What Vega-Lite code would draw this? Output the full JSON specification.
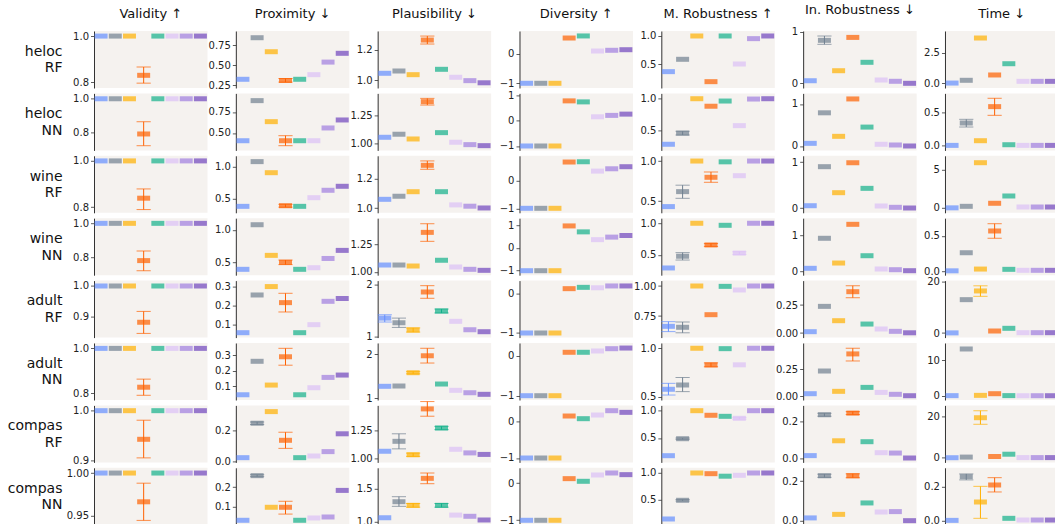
{
"$schema":"https://vega.github.io/schema/vega-lite/v6.json",
"padding":{"left":7,"top":3,"right":0,"bottom":0},
"background":"white",
"data":{"values":[
{"d":"heloc RF","m":"Val","k":1,"v":1},{"d":"heloc RF","m":"Val","k":2,"v":1},{"d":"heloc RF","m":"Val","k":3,"v":1},{"d":"heloc RF","m":"Val","k":4,"v":0.83,"lo":0.796,"hi":0.866},{"d":"heloc RF","m":"Val","k":5,"v":1},{"d":"heloc RF","m":"Val","k":6,"v":1},{"d":"heloc RF","m":"Val","k":7,"v":1},{"d":"heloc RF","m":"Val","k":8,"v":1},
{"d":"heloc RF","m":"Prox","k":1,"v":0.325},{"d":"heloc RF","m":"Prox","k":2,"v":0.845},{"d":"heloc RF","m":"Prox","k":3,"v":0.67},{"d":"heloc RF","m":"Prox","k":4,"v":0.31,"lo":0.29,"hi":0.335},{"d":"heloc RF","m":"Prox","k":5,"v":0.325},{"d":"heloc RF","m":"Prox","k":6,"v":0.383},{"d":"heloc RF","m":"Prox","k":7,"v":0.54},{"d":"heloc RF","m":"Prox","k":8,"v":0.65},
{"d":"heloc RF","m":"Plaus","k":1,"v":1.046},{"d":"heloc RF","m":"Plaus","k":2,"v":1.061},{"d":"heloc RF","m":"Plaus","k":3,"v":1.037},{"d":"heloc RF","m":"Plaus","k":4,"v":1.263,"lo":1.237,"hi":1.289},{"d":"heloc RF","m":"Plaus","k":5,"v":1.072},{"d":"heloc RF","m":"Plaus","k":6,"v":1.02},{"d":"heloc RF","m":"Plaus","k":7,"v":0.998},{"d":"heloc RF","m":"Plaus","k":8,"v":0.984},
{"d":"heloc RF","m":"Div","k":1,"v":-1},{"d":"heloc RF","m":"Div","k":2,"v":-1},{"d":"heloc RF","m":"Div","k":3,"v":-1},{"d":"heloc RF","m":"Div","k":4,"v":0.53},{"d":"heloc RF","m":"Div","k":5,"v":0.6},{"d":"heloc RF","m":"Div","k":6,"v":0.09},{"d":"heloc RF","m":"Div","k":7,"v":0.115},{"d":"heloc RF","m":"Div","k":8,"v":0.135},
{"d":"heloc RF","m":"MRob","k":1,"v":0.37},{"d":"heloc RF","m":"MRob","k":2,"v":0.588},{"d":"heloc RF","m":"MRob","k":3,"v":1},{"d":"heloc RF","m":"MRob","k":4,"v":0.193},{"d":"heloc RF","m":"MRob","k":5,"v":1},{"d":"heloc RF","m":"MRob","k":6,"v":0.505},{"d":"heloc RF","m":"MRob","k":7,"v":0.953},{"d":"heloc RF","m":"MRob","k":8,"v":1},
{"d":"heloc RF","m":"IRob","k":1,"v":0.05},{"d":"heloc RF","m":"IRob","k":2,"v":0.833,"lo":0.756,"hi":0.917},{"d":"heloc RF","m":"IRob","k":3,"v":0.244},{"d":"heloc RF","m":"IRob","k":4,"v":0.89},{"d":"heloc RF","m":"IRob","k":5,"v":0.407},{"d":"heloc RF","m":"IRob","k":6,"v":0.064},{"d":"heloc RF","m":"IRob","k":7,"v":0.039},{"d":"heloc RF","m":"IRob","k":8,"v":0},
{"d":"heloc RF","m":"Time","k":1,"v":0.02},{"d":"heloc RF","m":"Time","k":2,"v":0.245},{"d":"heloc RF","m":"Time","k":3,"v":3.7},{"d":"heloc RF","m":"Time","k":4,"v":0.68},{"d":"heloc RF","m":"Time","k":5,"v":1.6},{"d":"heloc RF","m":"Time","k":6,"v":0.16},{"d":"heloc RF","m":"Time","k":7,"v":0.16},{"d":"heloc RF","m":"Time","k":8,"v":0.16},
{"d":"heloc NN","m":"Val","k":1,"v":1},{"d":"heloc NN","m":"Val","k":2,"v":1},{"d":"heloc NN","m":"Val","k":3,"v":1},{"d":"heloc NN","m":"Val","k":4,"v":0.79,"lo":0.72,"hi":0.863},{"d":"heloc NN","m":"Val","k":5,"v":1},{"d":"heloc NN","m":"Val","k":6,"v":1},{"d":"heloc NN","m":"Val","k":7,"v":1},{"d":"heloc NN","m":"Val","k":8,"v":1},
{"d":"heloc NN","m":"Prox","k":1,"v":0.408},{"d":"heloc NN","m":"Prox","k":2,"v":0.885},{"d":"heloc NN","m":"Prox","k":3,"v":0.635},{"d":"heloc NN","m":"Prox","k":4,"v":0.408,"lo":0.349,"hi":0.468},{"d":"heloc NN","m":"Prox","k":5,"v":0.408},{"d":"heloc NN","m":"Prox","k":6,"v":0.408},{"d":"heloc NN","m":"Prox","k":7,"v":0.56},{"d":"heloc NN","m":"Prox","k":8,"v":0.655},
{"d":"heloc NN","m":"Plaus","k":1,"v":1.053},{"d":"heloc NN","m":"Plaus","k":2,"v":1.08},{"d":"heloc NN","m":"Plaus","k":3,"v":1.038},{"d":"heloc NN","m":"Plaus","k":4,"v":1.368,"lo":1.338,"hi":1.397},{"d":"heloc NN","m":"Plaus","k":5,"v":1.094},{"d":"heloc NN","m":"Plaus","k":6,"v":1.009},{"d":"heloc NN","m":"Plaus","k":7,"v":0.988},{"d":"heloc NN","m":"Plaus","k":8,"v":0.979},
{"d":"heloc NN","m":"Div","k":1,"v":-1},{"d":"heloc NN","m":"Div","k":2,"v":-1},{"d":"heloc NN","m":"Div","k":3,"v":-1},{"d":"heloc NN","m":"Div","k":4,"v":0.77},{"d":"heloc NN","m":"Div","k":5,"v":0.73},{"d":"heloc NN","m":"Div","k":6,"v":0.145},{"d":"heloc NN","m":"Div","k":7,"v":0.2},{"d":"heloc NN","m":"Div","k":8,"v":0.25},
{"d":"heloc NN","m":"MRob","k":1,"v":0.272},{"d":"heloc NN","m":"MRob","k":2,"v":0.45,"lo":0.42,"hi":0.48},{"d":"heloc NN","m":"MRob","k":3,"v":1},{"d":"heloc NN","m":"MRob","k":4,"v":0.88},{"d":"heloc NN","m":"MRob","k":5,"v":0.963},{"d":"heloc NN","m":"MRob","k":6,"v":0.57},{"d":"heloc NN","m":"MRob","k":7,"v":0.995},{"d":"heloc NN","m":"MRob","k":8,"v":1},
{"d":"heloc NN","m":"IRob","k":1,"v":0.063},{"d":"heloc NN","m":"IRob","k":2,"v":0.79},{"d":"heloc NN","m":"IRob","k":3,"v":0.23},{"d":"heloc NN","m":"IRob","k":4,"v":1.12},{"d":"heloc NN","m":"IRob","k":5,"v":0.45},{"d":"heloc NN","m":"IRob","k":6,"v":0.04},{"d":"heloc NN","m":"IRob","k":7,"v":0.024},{"d":"heloc NN","m":"IRob","k":8,"v":0},
{"d":"heloc NN","m":"Time","k":1,"v":0.005},{"d":"heloc NN","m":"Time","k":2,"v":0.34,"lo":0.28,"hi":0.395},{"d":"heloc NN","m":"Time","k":3,"v":0.075},{"d":"heloc NN","m":"Time","k":4,"v":0.585,"lo":0.455,"hi":0.71},{"d":"heloc NN","m":"Time","k":5,"v":0.015},{"d":"heloc NN","m":"Time","k":6,"v":0.005},{"d":"heloc NN","m":"Time","k":7,"v":0.005},{"d":"heloc NN","m":"Time","k":8,"v":0.005},
{"d":"wine RF","m":"Val","k":1,"v":1},{"d":"wine RF","m":"Val","k":2,"v":1},{"d":"wine RF","m":"Val","k":3,"v":1},{"d":"wine RF","m":"Val","k":4,"v":0.839,"lo":0.79,"hi":0.879},{"d":"wine RF","m":"Val","k":5,"v":1},{"d":"wine RF","m":"Val","k":6,"v":1},{"d":"wine RF","m":"Val","k":7,"v":1},{"d":"wine RF","m":"Val","k":8,"v":1},
{"d":"wine RF","m":"Prox","k":1,"v":0.373},{"d":"wine RF","m":"Prox","k":2,"v":1.08},{"d":"wine RF","m":"Prox","k":3,"v":0.905},{"d":"wine RF","m":"Prox","k":4,"v":0.383,"lo":0.36,"hi":0.405},{"d":"wine RF","m":"Prox","k":5,"v":0.373},{"d":"wine RF","m":"Prox","k":6,"v":0.51},{"d":"wine RF","m":"Prox","k":7,"v":0.627},{"d":"wine RF","m":"Prox","k":8,"v":0.69},
{"d":"wine RF","m":"Plaus","k":1,"v":1.061},{"d":"wine RF","m":"Plaus","k":2,"v":1.082},{"d":"wine RF","m":"Plaus","k":3,"v":1.113},{"d":"wine RF","m":"Plaus","k":4,"v":1.293,"lo":1.266,"hi":1.323},{"d":"wine RF","m":"Plaus","k":5,"v":1.113},{"d":"wine RF","m":"Plaus","k":6,"v":1.023},{"d":"wine RF","m":"Plaus","k":7,"v":1.014},{"d":"wine RF","m":"Plaus","k":8,"v":1.002},
{"d":"wine RF","m":"Div","k":1,"v":-1},{"d":"wine RF","m":"Div","k":2,"v":-1},{"d":"wine RF","m":"Div","k":3,"v":-1},{"d":"wine RF","m":"Div","k":4,"v":0.68},{"d":"wine RF","m":"Div","k":5,"v":0.69},{"d":"wine RF","m":"Div","k":6,"v":0.35},{"d":"wine RF","m":"Div","k":7,"v":0.435},{"d":"wine RF","m":"Div","k":8,"v":0.51},
{"d":"wine RF","m":"MRob","k":1,"v":0.434},{"d":"wine RF","m":"MRob","k":2,"v":0.62,"lo":0.537,"hi":0.7},{"d":"wine RF","m":"MRob","k":3,"v":1},{"d":"wine RF","m":"MRob","k":4,"v":0.798,"lo":0.736,"hi":0.864},{"d":"wine RF","m":"MRob","k":5,"v":0.99},{"d":"wine RF","m":"MRob","k":6,"v":0.818},{"d":"wine RF","m":"MRob","k":7,"v":1},{"d":"wine RF","m":"MRob","k":8,"v":1},
{"d":"wine RF","m":"IRob","k":1,"v":0.05},{"d":"wine RF","m":"IRob","k":2,"v":0.904},{"d":"wine RF","m":"IRob","k":3,"v":0.335},{"d":"wine RF","m":"IRob","k":4,"v":0.99},{"d":"wine RF","m":"IRob","k":5,"v":0.43},{"d":"wine RF","m":"IRob","k":6,"v":0.044},{"d":"wine RF","m":"IRob","k":7,"v":0.015},{"d":"wine RF","m":"IRob","k":8,"v":0},
{"d":"wine RF","m":"Time","k":1,"v":0.02},{"d":"wine RF","m":"Time","k":2,"v":0.22},{"d":"wine RF","m":"Time","k":3,"v":5.96},{"d":"wine RF","m":"Time","k":4,"v":0.62},{"d":"wine RF","m":"Time","k":5,"v":1.58},{"d":"wine RF","m":"Time","k":6,"v":0.13},{"d":"wine RF","m":"Time","k":7,"v":0.13},{"d":"wine RF","m":"Time","k":8,"v":0.13},
{"d":"wine NN","m":"Val","k":1,"v":1},{"d":"wine NN","m":"Val","k":2,"v":1},{"d":"wine NN","m":"Val","k":3,"v":1},{"d":"wine NN","m":"Val","k":4,"v":0.783,"lo":0.724,"hi":0.839},{"d":"wine NN","m":"Val","k":5,"v":1},{"d":"wine NN","m":"Val","k":6,"v":1},{"d":"wine NN","m":"Val","k":7,"v":1},{"d":"wine NN","m":"Val","k":8,"v":1},
{"d":"wine NN","m":"Prox","k":1,"v":0.387},{"d":"wine NN","m":"Prox","k":2,"v":1.077},{"d":"wine NN","m":"Prox","k":3,"v":0.603},{"d":"wine NN","m":"Prox","k":4,"v":0.495,"lo":0.46,"hi":0.53},{"d":"wine NN","m":"Prox","k":5,"v":0.387},{"d":"wine NN","m":"Prox","k":6,"v":0.412},{"d":"wine NN","m":"Prox","k":7,"v":0.555},{"d":"wine NN","m":"Prox","k":8,"v":0.68},
{"d":"wine NN","m":"Plaus","k":1,"v":1.063},{"d":"wine NN","m":"Plaus","k":2,"v":1.063},{"d":"wine NN","m":"Plaus","k":3,"v":1.054},{"d":"wine NN","m":"Plaus","k":4,"v":1.358,"lo":1.277,"hi":1.436},{"d":"wine NN","m":"Plaus","k":5,"v":1.106},{"d":"wine NN","m":"Plaus","k":6,"v":1.045},{"d":"wine NN","m":"Plaus","k":7,"v":1.024},{"d":"wine NN","m":"Plaus","k":8,"v":1.015},
{"d":"wine NN","m":"Div","k":1,"v":-1},{"d":"wine NN","m":"Div","k":2,"v":-1},{"d":"wine NN","m":"Div","k":3,"v":-1},{"d":"wine NN","m":"Div","k":4,"v":0.96},{"d":"wine NN","m":"Div","k":5,"v":0.7},{"d":"wine NN","m":"Div","k":6,"v":0.36},{"d":"wine NN","m":"Div","k":7,"v":0.47},{"d":"wine NN","m":"Div","k":8,"v":0.54},
{"d":"wine NN","m":"MRob","k":1,"v":0.295},{"d":"wine NN","m":"MRob","k":2,"v":0.48,"lo":0.42,"hi":0.537},{"d":"wine NN","m":"MRob","k":3,"v":1},{"d":"wine NN","m":"MRob","k":4,"v":0.658,"lo":0.635,"hi":0.68},{"d":"wine NN","m":"MRob","k":5,"v":0.968},{"d":"wine NN","m":"MRob","k":6,"v":0.53,"lo":0.51,"hi":0.55},{"d":"wine NN","m":"MRob","k":7,"v":1},{"d":"wine NN","m":"MRob","k":8,"v":1},
{"d":"wine NN","m":"IRob","k":1,"v":0.083},{"d":"wine NN","m":"IRob","k":2,"v":0.917},{"d":"wine NN","m":"IRob","k":3,"v":0.23},{"d":"wine NN","m":"IRob","k":4,"v":1.305},{"d":"wine NN","m":"IRob","k":5,"v":0.433},{"d":"wine NN","m":"IRob","k":6,"v":0.064},{"d":"wine NN","m":"IRob","k":7,"v":0.045},{"d":"wine NN","m":"IRob","k":8,"v":0.017},
{"d":"wine NN","m":"Time","k":1,"v":0.003},{"d":"wine NN","m":"Time","k":2,"v":0.259},{"d":"wine NN","m":"Time","k":3,"v":0.028},{"d":"wine NN","m":"Time","k":4,"v":0.567,"lo":0.464,"hi":0.67},{"d":"wine NN","m":"Time","k":5,"v":0.024},{"d":"wine NN","m":"Time","k":6,"v":0.01},{"d":"wine NN","m":"Time","k":7,"v":0.01},{"d":"wine NN","m":"Time","k":8,"v":0.01},
{"d":"adult RF","m":"Val","k":1,"v":1},{"d":"adult RF","m":"Val","k":2,"v":1},{"d":"adult RF","m":"Val","k":3,"v":1},{"d":"adult RF","m":"Val","k":4,"v":0.883,"lo":0.847,"hi":0.918},{"d":"adult RF","m":"Val","k":5,"v":1},{"d":"adult RF","m":"Val","k":6,"v":1},{"d":"adult RF","m":"Val","k":7,"v":1},{"d":"adult RF","m":"Val","k":8,"v":1},
{"d":"adult RF","m":"Prox","k":1,"v":0.055},{"d":"adult RF","m":"Prox","k":2,"v":0.257},{"d":"adult RF","m":"Prox","k":3,"v":0.302},{"d":"adult RF","m":"Prox","k":4,"v":0.216,"lo":0.166,"hi":0.266},{"d":"adult RF","m":"Prox","k":5,"v":0.055},{"d":"adult RF","m":"Prox","k":6,"v":0.098},{"d":"adult RF","m":"Prox","k":7,"v":0.223},{"d":"adult RF","m":"Prox","k":8,"v":0.238},
{"d":"adult RF","m":"Plaus","k":1,"v":1.36,"lo":1.284,"hi":1.425},{"d":"adult RF","m":"Plaus","k":2,"v":1.27,"lo":1.18,"hi":1.36},{"d":"adult RF","m":"Plaus","k":3,"v":1.13,"lo":1.09,"hi":1.17},{"d":"adult RF","m":"Plaus","k":4,"v":1.865,"lo":1.743,"hi":1.987},{"d":"adult RF","m":"Plaus","k":5,"v":1.497,"lo":1.46,"hi":1.535},{"d":"adult RF","m":"Plaus","k":6,"v":1.298},{"d":"adult RF","m":"Plaus","k":7,"v":1.135},{"d":"adult RF","m":"Plaus","k":8,"v":1.097},
{"d":"adult RF","m":"Div","k":1,"v":-1},{"d":"adult RF","m":"Div","k":2,"v":-1},{"d":"adult RF","m":"Div","k":3,"v":-1},{"d":"adult RF","m":"Div","k":4,"v":0.117},{"d":"adult RF","m":"Div","k":5,"v":0.15},{"d":"adult RF","m":"Div","k":6,"v":0.14},{"d":"adult RF","m":"Div","k":7,"v":0.185},{"d":"adult RF","m":"Div","k":8,"v":0.185},
{"d":"adult RF","m":"MRob","k":1,"v":0.664,"lo":0.62,"hi":0.703},{"d":"adult RF","m":"MRob","k":2,"v":0.656,"lo":0.61,"hi":0.7},{"d":"adult RF","m":"MRob","k":3,"v":1},{"d":"adult RF","m":"MRob","k":4,"v":0.761},{"d":"adult RF","m":"MRob","k":5,"v":0.997},{"d":"adult RF","m":"MRob","k":6,"v":0.967},{"d":"adult RF","m":"MRob","k":7,"v":1},{"d":"adult RF","m":"MRob","k":8,"v":1},
{"d":"adult RF","m":"IRob","k":1,"v":0.012},{"d":"adult RF","m":"IRob","k":2,"v":0.238},{"d":"adult RF","m":"IRob","k":3,"v":0.11},{"d":"adult RF","m":"IRob","k":4,"v":0.369,"lo":0.315,"hi":0.422},{"d":"adult RF","m":"IRob","k":5,"v":0.08},{"d":"adult RF","m":"IRob","k":6,"v":0.036},{"d":"adult RF","m":"IRob","k":7,"v":0.015},{"d":"adult RF","m":"IRob","k":8,"v":0.002},
{"d":"adult RF","m":"Time","k":1,"v":0.05},{"d":"adult RF","m":"Time","k":2,"v":13},{"d":"adult RF","m":"Time","k":3,"v":16.4,"lo":14.3,"hi":18.4},{"d":"adult RF","m":"Time","k":4,"v":0.78},{"d":"adult RF","m":"Time","k":5,"v":1.83},{"d":"adult RF","m":"Time","k":6,"v":0.13},{"d":"adult RF","m":"Time","k":7,"v":0.13},{"d":"adult RF","m":"Time","k":8,"v":0.13},
{"d":"adult NN","m":"Val","k":1,"v":1},{"d":"adult NN","m":"Val","k":2,"v":1},{"d":"adult NN","m":"Val","k":3,"v":1},{"d":"adult NN","m":"Val","k":4,"v":0.827,"lo":0.791,"hi":0.863},{"d":"adult NN","m":"Val","k":5,"v":1},{"d":"adult NN","m":"Val","k":6,"v":1},{"d":"adult NN","m":"Val","k":7,"v":1},{"d":"adult NN","m":"Val","k":8,"v":1},
{"d":"adult NN","m":"Prox","k":1,"v":0.046},{"d":"adult NN","m":"Prox","k":2,"v":0.26},{"d":"adult NN","m":"Prox","k":3,"v":0.108},{"d":"adult NN","m":"Prox","k":4,"v":0.289,"lo":0.235,"hi":0.343},{"d":"adult NN","m":"Prox","k":5,"v":0.046},{"d":"adult NN","m":"Prox","k":6,"v":0.091},{"d":"adult NN","m":"Prox","k":7,"v":0.157},{"d":"adult NN","m":"Prox","k":8,"v":0.172},
{"d":"adult NN","m":"Plaus","k":1,"v":1.266},{"d":"adult NN","m":"Plaus","k":2,"v":1.273},{"d":"adult NN","m":"Plaus","k":3,"v":1.575,"lo":1.55,"hi":1.6},{"d":"adult NN","m":"Plaus","k":4,"v":1.96,"lo":1.795,"hi":2.13},{"d":"adult NN","m":"Plaus","k":5,"v":1.318},{"d":"adult NN","m":"Plaus","k":6,"v":1.175},{"d":"adult NN","m":"Plaus","k":7,"v":1.12},{"d":"adult NN","m":"Plaus","k":8,"v":1.084},
{"d":"adult NN","m":"Div","k":1,"v":-1},{"d":"adult NN","m":"Div","k":2,"v":-1},{"d":"adult NN","m":"Div","k":3,"v":-1},{"d":"adult NN","m":"Div","k":4,"v":0.093},{"d":"adult NN","m":"Div","k":5,"v":0.093},{"d":"adult NN","m":"Div","k":6,"v":0.126},{"d":"adult NN","m":"Div","k":7,"v":0.184},{"d":"adult NN","m":"Div","k":8,"v":0.2},
{"d":"adult NN","m":"MRob","k":1,"v":0.579,"lo":0.52,"hi":0.64},{"d":"adult NN","m":"MRob","k":2,"v":0.623,"lo":0.555,"hi":0.7},{"d":"adult NN","m":"MRob","k":3,"v":1},{"d":"adult NN","m":"MRob","k":4,"v":0.829,"lo":0.81,"hi":0.85},{"d":"adult NN","m":"MRob","k":5,"v":0.996},{"d":"adult NN","m":"MRob","k":6,"v":0.83},{"d":"adult NN","m":"MRob","k":7,"v":1},{"d":"adult NN","m":"MRob","k":8,"v":1},
{"d":"adult NN","m":"IRob","k":1,"v":0.022},{"d":"adult NN","m":"IRob","k":2,"v":0.234},{"d":"adult NN","m":"IRob","k":3,"v":0.044},{"d":"adult NN","m":"IRob","k":4,"v":0.394,"lo":0.328,"hi":0.447},{"d":"adult NN","m":"IRob","k":5,"v":0.081},{"d":"adult NN","m":"IRob","k":6,"v":0.034},{"d":"adult NN","m":"IRob","k":7,"v":0.016},{"d":"adult NN","m":"IRob","k":8,"v":0.003},
{"d":"adult NN","m":"Time","k":1,"v":0.02},{"d":"adult NN","m":"Time","k":2,"v":13.2},{"d":"adult NN","m":"Time","k":3,"v":0.1},{"d":"adult NN","m":"Time","k":4,"v":0.57},{"d":"adult NN","m":"Time","k":5,"v":0.03},{"d":"adult NN","m":"Time","k":6,"v":0},{"d":"adult NN","m":"Time","k":7,"v":0},{"d":"adult NN","m":"Time","k":8,"v":0},
{"d":"compas RF","m":"Val","k":1,"v":1},{"d":"compas RF","m":"Val","k":2,"v":1},{"d":"compas RF","m":"Val","k":3,"v":1},{"d":"compas RF","m":"Val","k":4,"v":0.943,"lo":0.906,"hi":0.981},{"d":"compas RF","m":"Val","k":5,"v":1},{"d":"compas RF","m":"Val","k":6,"v":1},{"d":"compas RF","m":"Val","k":7,"v":1},{"d":"compas RF","m":"Val","k":8,"v":1},
{"d":"compas RF","m":"Prox","k":1,"v":0.026},{"d":"compas RF","m":"Prox","k":2,"v":0.248,"lo":0.24,"hi":0.256},{"d":"compas RF","m":"Prox","k":3,"v":0.323},{"d":"compas RF","m":"Prox","k":4,"v":0.138,"lo":0.086,"hi":0.19},{"d":"compas RF","m":"Prox","k":5,"v":0.026},{"d":"compas RF","m":"Prox","k":6,"v":0.037},{"d":"compas RF","m":"Prox","k":7,"v":0.065},{"d":"compas RF","m":"Prox","k":8,"v":0.18},
{"d":"compas RF","m":"Plaus","k":1,"v":1.062},{"d":"compas RF","m":"Plaus","k":2,"v":1.153,"lo":1.084,"hi":1.222},{"d":"compas RF","m":"Plaus","k":3,"v":1.03,"lo":1.015,"hi":1.045},{"d":"compas RF","m":"Plaus","k":4,"v":1.45,"lo":1.383,"hi":1.517},{"d":"compas RF","m":"Plaus","k":5,"v":1.275,"lo":1.26,"hi":1.29},{"d":"compas RF","m":"Plaus","k":6,"v":1.08},{"d":"compas RF","m":"Plaus","k":7,"v":1.047},{"d":"compas RF","m":"Plaus","k":8,"v":1.033},
{"d":"compas RF","m":"Div","k":1,"v":-1},{"d":"compas RF","m":"Div","k":2,"v":-1},{"d":"compas RF","m":"Div","k":3,"v":-1},{"d":"compas RF","m":"Div","k":4,"v":0.135},{"d":"compas RF","m":"Div","k":5,"v":0.063},{"d":"compas RF","m":"Div","k":6,"v":0.162},{"d":"compas RF","m":"Div","k":7,"v":0.279},{"d":"compas RF","m":"Div","k":8,"v":0.234},
{"d":"compas RF","m":"MRob","k":1,"v":0.176},{"d":"compas RF","m":"MRob","k":2,"v":0.487,"lo":0.475,"hi":0.5},{"d":"compas RF","m":"MRob","k":3,"v":1},{"d":"compas RF","m":"MRob","k":4,"v":0.916},{"d":"compas RF","m":"MRob","k":5,"v":0.897},{"d":"compas RF","m":"MRob","k":6,"v":0.861,"lo":0.845,"hi":0.877},{"d":"compas RF","m":"MRob","k":7,"v":1},{"d":"compas RF","m":"MRob","k":8,"v":1},
{"d":"compas RF","m":"IRob","k":1,"v":0.013},{"d":"compas RF","m":"IRob","k":2,"v":0.236,"lo":0.228,"hi":0.244},{"d":"compas RF","m":"IRob","k":3,"v":0.094},{"d":"compas RF","m":"IRob","k":4,"v":0.245,"lo":0.237,"hi":0.253},{"d":"compas RF","m":"IRob","k":5,"v":0.089},{"d":"compas RF","m":"IRob","k":6,"v":0.029},{"d":"compas RF","m":"IRob","k":7,"v":0.027},{"d":"compas RF","m":"IRob","k":8,"v":0},
{"d":"compas RF","m":"Time","k":1,"v":0},{"d":"compas RF","m":"Time","k":2,"v":0.3},{"d":"compas RF","m":"Time","k":3,"v":19.5,"lo":16.3,"hi":22.9},{"d":"compas RF","m":"Time","k":4,"v":0.6},{"d":"compas RF","m":"Time","k":5,"v":1.7},{"d":"compas RF","m":"Time","k":6,"v":0.05},{"d":"compas RF","m":"Time","k":7,"v":0.05},{"d":"compas RF","m":"Time","k":8,"v":0.05},
{"d":"compas NN","m":"Val","k":1,"v":1},{"d":"compas NN","m":"Val","k":2,"v":1},{"d":"compas NN","m":"Val","k":3,"v":1},{"d":"compas NN","m":"Val","k":4,"v":0.966,"lo":0.944,"hi":0.988},{"d":"compas NN","m":"Val","k":5,"v":1},{"d":"compas NN","m":"Val","k":6,"v":1},{"d":"compas NN","m":"Val","k":7,"v":1},{"d":"compas NN","m":"Val","k":8,"v":1},
{"d":"compas NN","m":"Prox","k":1,"v":0.03},{"d":"compas NN","m":"Prox","k":2,"v":0.26,"lo":0.255,"hi":0.265},{"d":"compas NN","m":"Prox","k":3,"v":0.097},{"d":"compas NN","m":"Prox","k":4,"v":0.097,"lo":0.062,"hi":0.128},{"d":"compas NN","m":"Prox","k":5,"v":0.03},{"d":"compas NN","m":"Prox","k":6,"v":0.042},{"d":"compas NN","m":"Prox","k":7,"v":0.047},{"d":"compas NN","m":"Prox","k":8,"v":0.184},
{"d":"compas NN","m":"Plaus","k":1,"v":1.06},{"d":"compas NN","m":"Plaus","k":2,"v":1.303,"lo":1.233,"hi":1.379},{"d":"compas NN","m":"Plaus","k":3,"v":1.248,"lo":1.22,"hi":1.276},{"d":"compas NN","m":"Plaus","k":4,"v":1.657,"lo":1.576,"hi":1.738},{"d":"compas NN","m":"Plaus","k":5,"v":1.248,"lo":1.22,"hi":1.276},{"d":"compas NN","m":"Plaus","k":6,"v":1.1},{"d":"compas NN","m":"Plaus","k":7,"v":1.082},{"d":"compas NN","m":"Plaus","k":8,"v":1.026},
{"d":"compas NN","m":"Div","k":1,"v":-1},{"d":"compas NN","m":"Div","k":2,"v":-1},{"d":"compas NN","m":"Div","k":3,"v":-1},{"d":"compas NN","m":"Div","k":4,"v":0.126},{"d":"compas NN","m":"Div","k":5,"v":0.054},{"d":"compas NN","m":"Div","k":6,"v":0.225},{"d":"compas NN","m":"Div","k":7,"v":0.279},{"d":"compas NN","m":"Div","k":8,"v":0.234},
{"d":"compas NN","m":"MRob","k":1,"v":0.139},{"d":"compas NN","m":"MRob","k":2,"v":0.489,"lo":0.475,"hi":0.503},{"d":"compas NN","m":"MRob","k":3,"v":1},{"d":"compas NN","m":"MRob","k":4,"v":0.987},{"d":"compas NN","m":"MRob","k":5,"v":0.94},{"d":"compas NN","m":"MRob","k":6,"v":0.957},{"d":"compas NN","m":"MRob","k":7,"v":1},{"d":"compas NN","m":"MRob","k":8,"v":1},
{"d":"compas NN","m":"IRob","k":1,"v":0.014},{"d":"compas NN","m":"IRob","k":2,"v":0.228,"lo":0.22,"hi":0.236},{"d":"compas NN","m":"IRob","k":3,"v":0.032},{"d":"compas NN","m":"IRob","k":4,"v":0.228,"lo":0.218,"hi":0.238},{"d":"compas NN","m":"IRob","k":5,"v":0.09},{"d":"compas NN","m":"IRob","k":6,"v":0.044},{"d":"compas NN","m":"IRob","k":7,"v":0.046},{"d":"compas NN","m":"IRob","k":8,"v":0},
{"d":"compas NN","m":"Time","k":1,"v":0.002},{"d":"compas NN","m":"Time","k":2,"v":0.259,"lo":0.24,"hi":0.275},{"d":"compas NN","m":"Time","k":3,"v":0.11,"lo":0.014,"hi":0.202},{"d":"compas NN","m":"Time","k":4,"v":0.21,"lo":0.169,"hi":0.253},{"d":"compas NN","m":"Time","k":5,"v":0.014},{"d":"compas NN","m":"Time","k":6,"v":0.004},{"d":"compas NN","m":"Time","k":7,"v":0.004},{"d":"compas NN","m":"Time","k":8,"v":0.004}
]},
"columns":7,
"spacing":{"row":5.4,"column":27.83},
"bounds":"flush",
"concat":[
{"title":"Validity ↑","transform":[{"filter":"datum.d=='heloc RF'&&datum.m=='Val'"}],"encoding":{"x":{"field":"k"},"color":{"field":"k"},"y":{"field":"v","type":"quantitative","scale":{"domain":[0.775,1.022]},"axis":{"values":[0.8,1],"format":".1f","title":["heloc","RF"]}}},"layer":[{"mark":{"type":"tick","thickness":5,"size":13}},{"transform":[{"filter":"isValid(datum.lo)"}],"mark":"errorbar","encoding":{"y":{"field":"lo","type":"quantitative"},"y2":{"field":"hi"}}}]},
{"title":"Proximity ↓","transform":[{"filter":"datum.d=='heloc RF'&&datum.m=='Prox'"}],"encoding":{"x":{"field":"k"},"color":{"field":"k"},"y":{"field":"v","type":"quantitative","scale":{"domain":[0.216,0.929]},"axis":{"values":[0.25,0.5,0.75],"format":".2f","title":null}}},"layer":[{"mark":{"type":"tick","thickness":5,"size":13}},{"transform":[{"filter":"isValid(datum.lo)"}],"mark":"errorbar","encoding":{"y":{"field":"lo","type":"quantitative"},"y2":{"field":"hi"}}}]},
{"title":"Plausibility ↓","transform":[{"filter":"datum.d=='heloc RF'&&datum.m=='Plaus'"}],"encoding":{"x":{"field":"k"},"color":{"field":"k"},"y":{"field":"v","type":"quantitative","scale":{"domain":[0.95,1.322]},"axis":{"values":[1,1.2],"format":".1f","title":null}}},"layer":[{"mark":{"type":"tick","thickness":5,"size":13}},{"transform":[{"filter":"isValid(datum.lo)"}],"mark":"errorbar","encoding":{"y":{"field":"lo","type":"quantitative"},"y2":{"field":"hi"}}}]},
{"title":"Diversity ↑","transform":[{"filter":"datum.d=='heloc RF'&&datum.m=='Div'"}],"encoding":{"x":{"field":"k"},"color":{"field":"k"},"y":{"field":"v","type":"quantitative","scale":{"domain":[-1.159,0.767]},"axis":{"values":[-1,0],"format":"d","title":null}}},"layer":[{"mark":{"type":"tick","thickness":5,"size":13}},{"transform":[{"filter":"isValid(datum.lo)"}],"mark":"errorbar","encoding":{"y":{"field":"lo","type":"quantitative"},"y2":{"field":"hi"}}}]},
{"title":"M. Robustness ↑","transform":[{"filter":"datum.d=='heloc RF'&&datum.m=='MRob'"}],"encoding":{"x":{"field":"k"},"color":{"field":"k"},"y":{"field":"v","type":"quantitative","scale":{"domain":[0.081,1.088]},"axis":{"values":[0.5,1],"format":".1f","title":null}}},"layer":[{"mark":{"type":"tick","thickness":5,"size":13}},{"transform":[{"filter":"isValid(datum.lo)"}],"mark":"errorbar","encoding":{"y":{"field":"lo","type":"quantitative"},"y2":{"field":"hi"}}}]},
{"title":"In. Robustness ↓","transform":[{"filter":"datum.d=='heloc RF'&&datum.m=='IRob'"}],"encoding":{"x":{"field":"k"},"color":{"field":"k"},"y":{"field":"v","type":"quantitative","scale":{"domain":[-0.091,1.014]},"axis":{"values":[0,1],"format":"d","title":null}}},"layer":[{"mark":{"type":"tick","thickness":5,"size":13}},{"transform":[{"filter":"isValid(datum.lo)"}],"mark":"errorbar","encoding":{"y":{"field":"lo","type":"quantitative"},"y2":{"field":"hi"}}}]},
{"title":"Time ↓","transform":[{"filter":"datum.d=='heloc RF'&&datum.m=='Time'"}],"encoding":{"x":{"field":"k"},"color":{"field":"k"},"y":{"field":"v","type":"quantitative","scale":{"domain":[-0.384,4.273]},"axis":{"values":[0,2.5],"format":".1f","title":null}}},"layer":[{"mark":{"type":"tick","thickness":5,"size":13}},{"transform":[{"filter":"isValid(datum.lo)"}],"mark":"errorbar","encoding":{"y":{"field":"lo","type":"quantitative"},"y2":{"field":"hi"}}}]},

{"transform":[{"filter":"datum.d=='heloc NN'&&datum.m=='Val'"}],"encoding":{"x":{"field":"k"},"color":{"field":"k"},"y":{"field":"v","type":"quantitative","scale":{"domain":[0.692,1.032]},"axis":{"values":[0.8,1],"format":".1f","title":["heloc","NN"]}}},"layer":[{"mark":{"type":"tick","thickness":5,"size":13}},{"transform":[{"filter":"isValid(datum.lo)"}],"mark":"errorbar","encoding":{"y":{"field":"lo","type":"quantitative"},"y2":{"field":"hi"}}}]},
{"transform":[{"filter":"datum.d=='heloc NN'&&datum.m=='Prox'"}],"encoding":{"x":{"field":"k"},"color":{"field":"k"},"y":{"field":"v","type":"quantitative","scale":{"domain":[0.293,0.971]},"axis":{"values":[0.5,0.75],"format":".2f","title":null}}},"layer":[{"mark":{"type":"tick","thickness":5,"size":13}},{"transform":[{"filter":"isValid(datum.lo)"}],"mark":"errorbar","encoding":{"y":{"field":"lo","type":"quantitative"},"y2":{"field":"hi"}}}]},
{"transform":[{"filter":"datum.d=='heloc NN'&&datum.m=='Plaus'"}],"encoding":{"x":{"field":"k"},"color":{"field":"k"},"y":{"field":"v","type":"quantitative","scale":{"domain":[0.937,1.441]},"axis":{"values":[1,1.25],"format":".2f","title":null}}},"layer":[{"mark":{"type":"tick","thickness":5,"size":13}},{"transform":[{"filter":"isValid(datum.lo)"}],"mark":"errorbar","encoding":{"y":{"field":"lo","type":"quantitative"},"y2":{"field":"hi"}}}]},
{"transform":[{"filter":"datum.d=='heloc NN'&&datum.m=='Div'"}],"encoding":{"x":{"field":"k"},"color":{"field":"k"},"y":{"field":"v","type":"quantitative","scale":{"domain":[-1.173,1.063]},"axis":{"values":[-1,0,1],"format":"d","title":null}}},"layer":[{"mark":{"type":"tick","thickness":5,"size":13}},{"transform":[{"filter":"isValid(datum.lo)"}],"mark":"errorbar","encoding":{"y":{"field":"lo","type":"quantitative"},"y2":{"field":"hi"}}}]},
{"transform":[{"filter":"datum.d=='heloc NN'&&datum.m=='MRob'"}],"encoding":{"x":{"field":"k"},"color":{"field":"k"},"y":{"field":"v","type":"quantitative","scale":{"domain":[0.174,1.085]},"axis":{"values":[0.5,1],"format":".1f","title":null}}},"layer":[{"mark":{"type":"tick","thickness":5,"size":13}},{"transform":[{"filter":"isValid(datum.lo)"}],"mark":"errorbar","encoding":{"y":{"field":"lo","type":"quantitative"},"y2":{"field":"hi"}}}]},
{"transform":[{"filter":"datum.d=='heloc NN'&&datum.m=='IRob'"}],"encoding":{"x":{"field":"k"},"color":{"field":"k"},"y":{"field":"v","type":"quantitative","scale":{"domain":[-0.105,1.252]},"axis":{"values":[0,1],"format":"d","title":null}}},"layer":[{"mark":{"type":"tick","thickness":5,"size":13}},{"transform":[{"filter":"isValid(datum.lo)"}],"mark":"errorbar","encoding":{"y":{"field":"lo","type":"quantitative"},"y2":{"field":"hi"}}}]},
{"transform":[{"filter":"datum.d=='heloc NN'&&datum.m=='Time'"}],"encoding":{"x":{"field":"k"},"color":{"field":"k"},"y":{"field":"v","type":"quantitative","scale":{"domain":[-0.07,0.783]},"axis":{"values":[0,0.5],"format":".1f","title":null}}},"layer":[{"mark":{"type":"tick","thickness":5,"size":13}},{"transform":[{"filter":"isValid(datum.lo)"}],"mark":"errorbar","encoding":{"y":{"field":"lo","type":"quantitative"},"y2":{"field":"hi"}}}]},

{"transform":[{"filter":"datum.d=='wine RF'&&datum.m=='Val'"}],"encoding":{"x":{"field":"k"},"color":{"field":"k"},"y":{"field":"v","type":"quantitative","scale":{"domain":[0.776,1.022]},"axis":{"values":[0.8,1],"format":".1f","title":["wine","RF"]}}},"layer":[{"mark":{"type":"tick","thickness":5,"size":13}},{"transform":[{"filter":"isValid(datum.lo)"}],"mark":"errorbar","encoding":{"y":{"field":"lo","type":"quantitative"},"y2":{"field":"hi"}}}]},
{"transform":[{"filter":"datum.d=='wine RF'&&datum.m=='Prox'"}],"encoding":{"x":{"field":"k"},"color":{"field":"k"},"y":{"field":"v","type":"quantitative","scale":{"domain":[0.271,1.172]},"axis":{"values":[0.5,1],"format":".1f","title":null}}},"layer":[{"mark":{"type":"tick","thickness":5,"size":13}},{"transform":[{"filter":"isValid(datum.lo)"}],"mark":"errorbar","encoding":{"y":{"field":"lo","type":"quantitative"},"y2":{"field":"hi"}}}]},
{"transform":[{"filter":"datum.d=='wine RF'&&datum.m=='Plaus'"}],"encoding":{"x":{"field":"k"},"color":{"field":"k"},"y":{"field":"v","type":"quantitative","scale":{"domain":[0.969,1.358]},"axis":{"values":[1,1.2],"format":".1f","title":null}}},"layer":[{"mark":{"type":"tick","thickness":5,"size":13}},{"transform":[{"filter":"isValid(datum.lo)"}],"mark":"errorbar","encoding":{"y":{"field":"lo","type":"quantitative"},"y2":{"field":"hi"}}}]},
{"transform":[{"filter":"datum.d=='wine RF'&&datum.m=='Div'"}],"encoding":{"x":{"field":"k"},"color":{"field":"k"},"y":{"field":"v","type":"quantitative","scale":{"domain":[-1.163,0.906]},"axis":{"values":[-1,0],"format":"d","title":null}}},"layer":[{"mark":{"type":"tick","thickness":5,"size":13}},{"transform":[{"filter":"isValid(datum.lo)"}],"mark":"errorbar","encoding":{"y":{"field":"lo","type":"quantitative"},"y2":{"field":"hi"}}}]},
{"transform":[{"filter":"datum.d=='wine RF'&&datum.m=='MRob'"}],"encoding":{"x":{"field":"k"},"color":{"field":"k"},"y":{"field":"v","type":"quantitative","scale":{"domain":[0.357,1.065]},"axis":{"values":[0.5,1],"format":".1f","title":null}}},"layer":[{"mark":{"type":"tick","thickness":5,"size":13}},{"transform":[{"filter":"isValid(datum.lo)"}],"mark":"errorbar","encoding":{"y":{"field":"lo","type":"quantitative"},"y2":{"field":"hi"}}}]},
{"transform":[{"filter":"datum.d=='wine RF'&&datum.m=='IRob'"}],"encoding":{"x":{"field":"k"},"color":{"field":"k"},"y":{"field":"v","type":"quantitative","scale":{"domain":[-0.105,1.142]},"axis":{"values":[0,1],"format":"d","title":null}}},"layer":[{"mark":{"type":"tick","thickness":5,"size":13}},{"transform":[{"filter":"isValid(datum.lo)"}],"mark":"errorbar","encoding":{"y":{"field":"lo","type":"quantitative"},"y2":{"field":"hi"}}}]},
{"transform":[{"filter":"datum.d=='wine RF'&&datum.m=='Time'"}],"encoding":{"x":{"field":"k"},"color":{"field":"k"},"y":{"field":"v","type":"quantitative","scale":{"domain":[-0.632,6.868]},"axis":{"values":[0,5],"format":"d","title":null}}},"layer":[{"mark":{"type":"tick","thickness":5,"size":13}},{"transform":[{"filter":"isValid(datum.lo)"}],"mark":"errorbar","encoding":{"y":{"field":"lo","type":"quantitative"},"y2":{"field":"hi"}}}]},

{"transform":[{"filter":"datum.d=='wine NN'&&datum.m=='Val'"}],"encoding":{"x":{"field":"k"},"color":{"field":"k"},"y":{"field":"v","type":"quantitative","scale":{"domain":[0.698,1.03]},"axis":{"values":[0.8,1],"format":".1f","title":["wine","NN"]}}},"layer":[{"mark":{"type":"tick","thickness":5,"size":13}},{"transform":[{"filter":"isValid(datum.lo)"}],"mark":"errorbar","encoding":{"y":{"field":"lo","type":"quantitative"},"y2":{"field":"hi"}}}]},
{"transform":[{"filter":"datum.d=='wine NN'&&datum.m=='Prox'"}],"encoding":{"x":{"field":"k"},"color":{"field":"k"},"y":{"field":"v","type":"quantitative","scale":{"domain":[0.296,1.178]},"axis":{"values":[0.5,1],"format":".1f","title":null}}},"layer":[{"mark":{"type":"tick","thickness":5,"size":13}},{"transform":[{"filter":"isValid(datum.lo)"}],"mark":"errorbar","encoding":{"y":{"field":"lo","type":"quantitative"},"y2":{"field":"hi"}}}]},
{"transform":[{"filter":"datum.d=='wine NN'&&datum.m=='Plaus'"}],"encoding":{"x":{"field":"k"},"color":{"field":"k"},"y":{"field":"v","type":"quantitative","scale":{"domain":[0.971,1.486]},"axis":{"values":[1,1.25],"format":".2f","title":null}}},"layer":[{"mark":{"type":"tick","thickness":5,"size":13}},{"transform":[{"filter":"isValid(datum.lo)"}],"mark":"errorbar","encoding":{"y":{"field":"lo","type":"quantitative"},"y2":{"field":"hi"}}}]},
{"transform":[{"filter":"datum.d=='wine NN'&&datum.m=='Div'"}],"encoding":{"x":{"field":"k"},"color":{"field":"k"},"y":{"field":"v","type":"quantitative","scale":{"domain":[-1.197,1.298]},"axis":{"values":[-1,0,1],"format":"d","title":null}}},"layer":[{"mark":{"type":"tick","thickness":5,"size":13}},{"transform":[{"filter":"isValid(datum.lo)"}],"mark":"errorbar","encoding":{"y":{"field":"lo","type":"quantitative"},"y2":{"field":"hi"}}}]},
{"transform":[{"filter":"datum.d=='wine NN'&&datum.m=='MRob'"}],"encoding":{"x":{"field":"k"},"color":{"field":"k"},"y":{"field":"v","type":"quantitative","scale":{"domain":[0.181,1.08]},"axis":{"values":[0.5,1],"format":".1f","title":null}}},"layer":[{"mark":{"type":"tick","thickness":5,"size":13}},{"transform":[{"filter":"isValid(datum.lo)"}],"mark":"errorbar","encoding":{"y":{"field":"lo","type":"quantitative"},"y2":{"field":"hi"}}}]},
{"transform":[{"filter":"datum.d=='wine NN'&&datum.m=='IRob'"}],"encoding":{"x":{"field":"k"},"color":{"field":"k"},"y":{"field":"v","type":"quantitative","scale":{"domain":[-0.108,1.475]},"axis":{"values":[0,1],"format":"d","title":null}}},"layer":[{"mark":{"type":"tick","thickness":5,"size":13}},{"transform":[{"filter":"isValid(datum.lo)"}],"mark":"errorbar","encoding":{"y":{"field":"lo","type":"quantitative"},"y2":{"field":"hi"}}}]},
{"transform":[{"filter":"datum.d=='wine NN'&&datum.m=='Time'"}],"encoding":{"x":{"field":"k"},"color":{"field":"k"},"y":{"field":"v","type":"quantitative","scale":{"domain":[-0.059,0.748]},"axis":{"values":[0,0.5],"format":".1f","title":null}}},"layer":[{"mark":{"type":"tick","thickness":5,"size":13}},{"transform":[{"filter":"isValid(datum.lo)"}],"mark":"errorbar","encoding":{"y":{"field":"lo","type":"quantitative"},"y2":{"field":"hi"}}}]},

{"transform":[{"filter":"datum.d=='adult RF'&&datum.m=='Val'"}],"encoding":{"x":{"field":"k"},"color":{"field":"k"},"y":{"field":"v","type":"quantitative","scale":{"domain":[0.8335,1.0174]},"axis":{"values":[0.9,1],"format":".1f","title":["adult","RF"]}}},"layer":[{"mark":{"type":"tick","thickness":5,"size":13}},{"transform":[{"filter":"isValid(datum.lo)"}],"mark":"errorbar","encoding":{"y":{"field":"lo","type":"quantitative"},"y2":{"field":"hi"}}}]},
{"transform":[{"filter":"datum.d=='adult RF'&&datum.m=='Prox'"}],"encoding":{"x":{"field":"k"},"color":{"field":"k"},"y":{"field":"v","type":"quantitative","scale":{"domain":[0.0287,0.334]},"axis":{"values":[0.1,0.2,0.3],"format":".1f","title":null}}},"layer":[{"mark":{"type":"tick","thickness":5,"size":13}},{"transform":[{"filter":"isValid(datum.lo)"}],"mark":"errorbar","encoding":{"y":{"field":"lo","type":"quantitative"},"y2":{"field":"hi"}}}]},
{"transform":[{"filter":"datum.d=='adult RF'&&datum.m=='Plaus'"}],"encoding":{"x":{"field":"k"},"color":{"field":"k"},"y":{"field":"v","type":"quantitative","scale":{"domain":[0.983,2.085]},"axis":{"values":[1,2],"format":"d","title":null}}},"layer":[{"mark":{"type":"tick","thickness":5,"size":13}},{"transform":[{"filter":"isValid(datum.lo)"}],"mark":"errorbar","encoding":{"y":{"field":"lo","type":"quantitative"},"y2":{"field":"hi"}}}]},
{"transform":[{"filter":"datum.d=='adult RF'&&datum.m=='Div'"}],"encoding":{"x":{"field":"k"},"color":{"field":"k"},"y":{"field":"v","type":"quantitative","scale":{"domain":[-1.116,0.32]},"axis":{"values":[-1,0],"format":"d","title":null}}},"layer":[{"mark":{"type":"tick","thickness":5,"size":13}},{"transform":[{"filter":"isValid(datum.lo)"}],"mark":"errorbar","encoding":{"y":{"field":"lo","type":"quantitative"},"y2":{"field":"hi"}}}]},
{"transform":[{"filter":"datum.d=='adult RF'&&datum.m=='MRob'"}],"encoding":{"x":{"field":"k"},"color":{"field":"k"},"y":{"field":"v","type":"quantitative","scale":{"domain":[0.57,1.045]},"axis":{"values":[0.75,1],"format":".2f","title":null}}},"layer":[{"mark":{"type":"tick","thickness":5,"size":13}},{"transform":[{"filter":"isValid(datum.lo)"}],"mark":"errorbar","encoding":{"y":{"field":"lo","type":"quantitative"},"y2":{"field":"hi"}}}]},
{"transform":[{"filter":"datum.d=='adult RF'&&datum.m=='IRob'"}],"encoding":{"x":{"field":"k"},"color":{"field":"k"},"y":{"field":"v","type":"quantitative","scale":{"domain":[-0.041,0.468]},"axis":{"values":[0,0.25],"format":".2f","title":null}}},"layer":[{"mark":{"type":"tick","thickness":5,"size":13}},{"transform":[{"filter":"isValid(datum.lo)"}],"mark":"errorbar","encoding":{"y":{"field":"lo","type":"quantitative"},"y2":{"field":"hi"}}}]},
{"transform":[{"filter":"datum.d=='adult RF'&&datum.m=='Time'"}],"encoding":{"x":{"field":"k"},"color":{"field":"k"},"y":{"field":"v","type":"quantitative","scale":{"domain":[-1.79,20.43]},"axis":{"values":[0,20],"format":"d","title":null}}},"layer":[{"mark":{"type":"tick","thickness":5,"size":13}},{"transform":[{"filter":"isValid(datum.lo)"}],"mark":"errorbar","encoding":{"y":{"field":"lo","type":"quantitative"},"y2":{"field":"hi"}}}]},

{"transform":[{"filter":"datum.d=='adult NN'&&datum.m=='Val'"}],"encoding":{"x":{"field":"k"},"color":{"field":"k"},"y":{"field":"v","type":"quantitative","scale":{"domain":[0.77,1.024]},"axis":{"values":[0.8,1],"format":".1f","title":["adult","NN"]}}},"layer":[{"mark":{"type":"tick","thickness":5,"size":13}},{"transform":[{"filter":"isValid(datum.lo)"}],"mark":"errorbar","encoding":{"y":{"field":"lo","type":"quantitative"},"y2":{"field":"hi"}}}]},
{"transform":[{"filter":"datum.d=='adult NN'&&datum.m=='Prox'"}],"encoding":{"x":{"field":"k"},"color":{"field":"k"},"y":{"field":"v","type":"quantitative","scale":{"domain":[0.0125,0.377]},"axis":{"values":[0.1,0.2,0.3],"format":".1f","title":null}}},"layer":[{"mark":{"type":"tick","thickness":5,"size":13}},{"transform":[{"filter":"isValid(datum.lo)"}],"mark":"errorbar","encoding":{"y":{"field":"lo","type":"quantitative"},"y2":{"field":"hi"}}}]},
{"transform":[{"filter":"datum.d=='adult NN'&&datum.m=='Plaus'"}],"encoding":{"x":{"field":"k"},"color":{"field":"k"},"y":{"field":"v","type":"quantitative","scale":{"domain":[0.955,2.25]},"axis":{"values":[1,2],"format":"d","title":null}}},"layer":[{"mark":{"type":"tick","thickness":5,"size":13}},{"transform":[{"filter":"isValid(datum.lo)"}],"mark":"errorbar","encoding":{"y":{"field":"lo","type":"quantitative"},"y2":{"field":"hi"}}}]},
{"transform":[{"filter":"datum.d=='adult NN'&&datum.m=='Div'"}],"encoding":{"x":{"field":"k"},"color":{"field":"k"},"y":{"field":"v","type":"quantitative","scale":{"domain":[-1.108,0.327]},"axis":{"values":[-1,0],"format":"d","title":null}}},"layer":[{"mark":{"type":"tick","thickness":5,"size":13}},{"transform":[{"filter":"isValid(datum.lo)"}],"mark":"errorbar","encoding":{"y":{"field":"lo","type":"quantitative"},"y2":{"field":"hi"}}}]},
{"transform":[{"filter":"datum.d=='adult NN'&&datum.m=='MRob'"}],"encoding":{"x":{"field":"k"},"color":{"field":"k"},"y":{"field":"v","type":"quantitative","scale":{"domain":[0.469,1.054]},"axis":{"values":[0.5,1],"format":".1f","title":null}}},"layer":[{"mark":{"type":"tick","thickness":5,"size":13}},{"transform":[{"filter":"isValid(datum.lo)"}],"mark":"errorbar","encoding":{"y":{"field":"lo","type":"quantitative"},"y2":{"field":"hi"}}}]},
{"transform":[{"filter":"datum.d=='adult NN'&&datum.m=='IRob'"}],"encoding":{"x":{"field":"k"},"color":{"field":"k"},"y":{"field":"v","type":"quantitative","scale":{"domain":[-0.037,0.496]},"axis":{"values":[0,0.25],"format":".2f","title":null}}},"layer":[{"mark":{"type":"tick","thickness":5,"size":13}},{"transform":[{"filter":"isValid(datum.lo)"}],"mark":"errorbar","encoding":{"y":{"field":"lo","type":"quantitative"},"y2":{"field":"hi"}}}]},
{"transform":[{"filter":"datum.d=='adult NN'&&datum.m=='Time'"}],"encoding":{"x":{"field":"k"},"color":{"field":"k"},"y":{"field":"v","type":"quantitative","scale":{"domain":[-1.21,14.89]},"axis":{"values":[0,10],"format":"d","title":null}}},"layer":[{"mark":{"type":"tick","thickness":5,"size":13}},{"transform":[{"filter":"isValid(datum.lo)"}],"mark":"errorbar","encoding":{"y":{"field":"lo","type":"quantitative"},"y2":{"field":"hi"}}}]},

{"transform":[{"filter":"datum.d=='compas RF'&&datum.m=='Val'"}],"encoding":{"x":{"field":"k"},"color":{"field":"k"},"y":{"field":"v","type":"quantitative","scale":{"domain":[0.897,1.0105]},"axis":{"values":[0.9,1],"format":".1f","title":["compas","RF"]}}},"layer":[{"mark":{"type":"tick","thickness":5,"size":13}},{"transform":[{"filter":"isValid(datum.lo)"}],"mark":"errorbar","encoding":{"y":{"field":"lo","type":"quantitative"},"y2":{"field":"hi"}}}]},
{"transform":[{"filter":"datum.d=='compas RF'&&datum.m=='Prox'"}],"encoding":{"x":{"field":"k"},"color":{"field":"k"},"y":{"field":"v","type":"quantitative","scale":{"domain":[-0.0045,0.363]},"axis":{"values":[0,0.2],"format":".1f","title":null}}},"layer":[{"mark":{"type":"tick","thickness":5,"size":13}},{"transform":[{"filter":"isValid(datum.lo)"}],"mark":"errorbar","encoding":{"y":{"field":"lo","type":"quantitative"},"y2":{"field":"hi"}}}]},
{"transform":[{"filter":"datum.d=='compas RF'&&datum.m=='Plaus'"}],"encoding":{"x":{"field":"k"},"color":{"field":"k"},"y":{"field":"v","type":"quantitative","scale":{"domain":[0.96,1.482]},"axis":{"values":[1,1.25],"format":".2f","title":null}}},"layer":[{"mark":{"type":"tick","thickness":5,"size":13}},{"transform":[{"filter":"isValid(datum.lo)"}],"mark":"errorbar","encoding":{"y":{"field":"lo","type":"quantitative"},"y2":{"field":"hi"}}}]},
{"transform":[{"filter":"datum.d=='compas RF'&&datum.m=='Div'"}],"encoding":{"x":{"field":"k"},"color":{"field":"k"},"y":{"field":"v","type":"quantitative","scale":{"domain":[-1.119,0.422]},"axis":{"values":[-1,0],"format":"d","title":null}}},"layer":[{"mark":{"type":"tick","thickness":5,"size":13}},{"transform":[{"filter":"isValid(datum.lo)"}],"mark":"errorbar","encoding":{"y":{"field":"lo","type":"quantitative"},"y2":{"field":"hi"}}}]},
{"transform":[{"filter":"datum.d=='compas RF'&&datum.m=='MRob'"}],"encoding":{"x":{"field":"k"},"color":{"field":"k"},"y":{"field":"v","type":"quantitative","scale":{"domain":[0.053,1.097]},"axis":{"values":[0.5,1],"format":".1f","title":null}}},"layer":[{"mark":{"type":"tick","thickness":5,"size":13}},{"transform":[{"filter":"isValid(datum.lo)"}],"mark":"errorbar","encoding":{"y":{"field":"lo","type":"quantitative"},"y2":{"field":"hi"}}}]},
{"transform":[{"filter":"datum.d=='compas RF'&&datum.m=='IRob'"}],"encoding":{"x":{"field":"k"},"color":{"field":"k"},"y":{"field":"v","type":"quantitative","scale":{"domain":[-0.024,0.287]},"axis":{"values":[0,0.2],"format":".1f","title":null}}},"layer":[{"mark":{"type":"tick","thickness":5,"size":13}},{"transform":[{"filter":"isValid(datum.lo)"}],"mark":"errorbar","encoding":{"y":{"field":"lo","type":"quantitative"},"y2":{"field":"hi"}}}]},
{"transform":[{"filter":"datum.d=='compas RF'&&datum.m=='Time'"}],"encoding":{"x":{"field":"k"},"color":{"field":"k"},"y":{"field":"v","type":"quantitative","scale":{"domain":[-2.29,25.51]},"axis":{"values":[0,20],"format":"d","title":null}}},"layer":[{"mark":{"type":"tick","thickness":5,"size":13}},{"transform":[{"filter":"isValid(datum.lo)"}],"mark":"errorbar","encoding":{"y":{"field":"lo","type":"quantitative"},"y2":{"field":"hi"}}}]},

{"transform":[{"filter":"datum.d=='compas NN'&&datum.m=='Val'"}],"encoding":{"x":{"field":"k"},"color":{"field":"k"},"y":{"field":"v","type":"quantitative","scale":{"domain":[0.9388,1.0062]},"axis":{"values":[0.95,1],"format":".2f","title":["compas","NN"]}}},"layer":[{"mark":{"type":"tick","thickness":5,"size":13}},{"transform":[{"filter":"isValid(datum.lo)"}],"mark":"errorbar","encoding":{"y":{"field":"lo","type":"quantitative"},"y2":{"field":"hi"}}}]},
{"transform":[{"filter":"datum.d=='compas NN'&&datum.m=='Prox'"}],"encoding":{"x":{"field":"k"},"color":{"field":"k"},"y":{"field":"v","type":"quantitative","scale":{"domain":[0.0067,0.3005]},"axis":{"values":[0.1,0.2],"format":".1f","title":null}}},"layer":[{"mark":{"type":"tick","thickness":5,"size":13}},{"transform":[{"filter":"isValid(datum.lo)"}],"mark":"errorbar","encoding":{"y":{"field":"lo","type":"quantitative"},"y2":{"field":"hi"}}}]},
{"transform":[{"filter":"datum.d=='compas NN'&&datum.m=='Plaus'"}],"encoding":{"x":{"field":"k"},"color":{"field":"k"},"y":{"field":"v","type":"quantitative","scale":{"domain":[0.953,1.817]},"axis":{"values":[1,1.5],"format":".1f","title":null}}},"layer":[{"mark":{"type":"tick","thickness":5,"size":13}},{"transform":[{"filter":"isValid(datum.lo)"}],"mark":"errorbar","encoding":{"y":{"field":"lo","type":"quantitative"},"y2":{"field":"hi"}}}]},
{"transform":[{"filter":"datum.d=='compas NN'&&datum.m=='Div'"}],"encoding":{"x":{"field":"k"},"color":{"field":"k"},"y":{"field":"v","type":"quantitative","scale":{"domain":[-1.122,0.419]},"axis":{"values":[-1,0],"format":"d","title":null}}},"layer":[{"mark":{"type":"tick","thickness":5,"size":13}},{"transform":[{"filter":"isValid(datum.lo)"}],"mark":"errorbar","encoding":{"y":{"field":"lo","type":"quantitative"},"y2":{"field":"hi"}}}]},
{"transform":[{"filter":"datum.d=='compas NN'&&datum.m=='MRob'"}],"encoding":{"x":{"field":"k"},"color":{"field":"k"},"y":{"field":"v","type":"quantitative","scale":{"domain":[0.03,1.097]},"axis":{"values":[0.5,1],"format":".1f","title":null}}},"layer":[{"mark":{"type":"tick","thickness":5,"size":13}},{"transform":[{"filter":"isValid(datum.lo)"}],"mark":"errorbar","encoding":{"y":{"field":"lo","type":"quantitative"},"y2":{"field":"hi"}}}]},
{"transform":[{"filter":"datum.d=='compas NN'&&datum.m=='IRob'"}],"encoding":{"x":{"field":"k"},"color":{"field":"k"},"y":{"field":"v","type":"quantitative","scale":{"domain":[-0.021,0.2685]},"axis":{"values":[0,0.2],"format":".1f","title":null}}},"layer":[{"mark":{"type":"tick","thickness":5,"size":13}},{"transform":[{"filter":"isValid(datum.lo)"}],"mark":"errorbar","encoding":{"y":{"field":"lo","type":"quantitative"},"y2":{"field":"hi"}}}]},
{"transform":[{"filter":"datum.d=='compas NN'&&datum.m=='Time'"}],"encoding":{"x":{"field":"k"},"color":{"field":"k"},"y":{"field":"v","type":"quantitative","scale":{"domain":[-0.024,0.311]},"axis":{"values":[0,0.2],"format":".1f","title":null}}},"layer":[{"mark":{"type":"tick","thickness":5,"size":13}},{"transform":[{"filter":"isValid(datum.lo)"}],"mark":"errorbar","encoding":{"y":{"field":"lo","type":"quantitative"},"y2":{"field":"hi"}}}]}
],
"config":{
"font":"DejaVu Sans",
"view":{"fill":"#f5f2ef","stroke":null,"discreteWidth":113.5,"continuousHeight":57,"continuousWidth":113.5},
"range":{"category":["#648fff","#708090","#ffb000","#fe6100","#12b08a","#dcc0f7","#a07de0","#6f44bd"]},
"scale":{"bandPaddingInner":0,"bandPaddingOuter":0,"pointPadding":0.5,"zero":false},
"legend":{"disable":true},
"axisX":{"disable":true},
"axisY":{"grid":false,"domainColor":"#333333","domainWidth":1,"tickColor":"#333333","tickSize":3.5,"tickWidth":0.8,"labelFontSize":10,"labelColor":"#222222","labelPadding":2,"titleAngle":0,"titleAlign":"right","titleBaseline":"middle","titleX":-32,"titleY":20.3,"titleFontSize":14,"titleFontWeight":"normal","titleLineHeight":16.5,"titleColor":"#111111"},
"title":{"fontSize":13,"fontWeight":"normal","color":"#111111","offset":10,"baseline":"alphabetic"},
"errorbar":{"ticks":true,"size":6,"thickness":1.2}
}
}
